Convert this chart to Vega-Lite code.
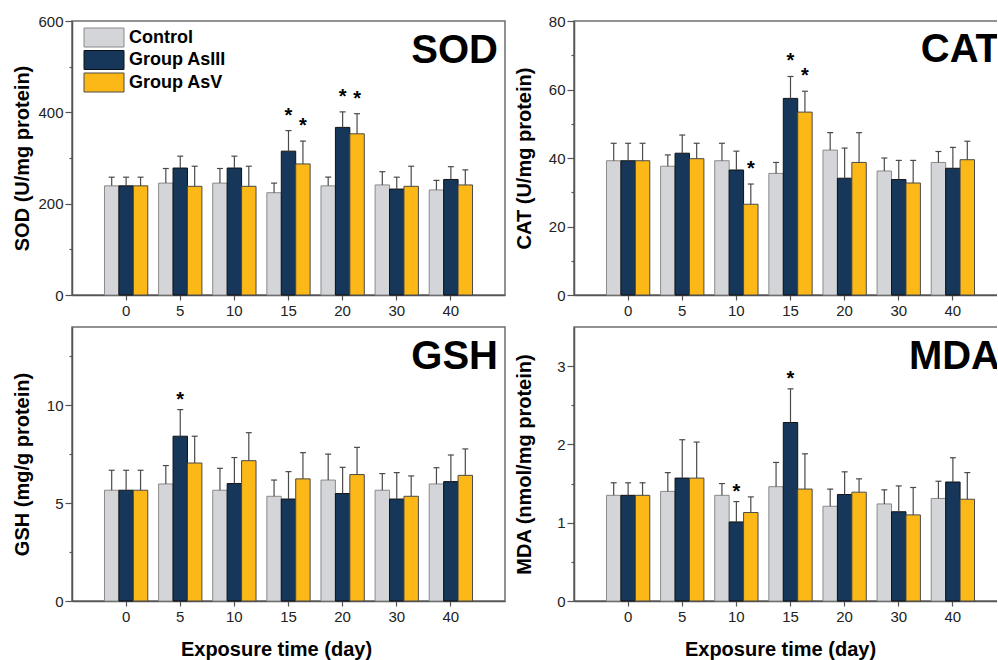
{
  "$schema": "https://vega.github.io/schema/vega-lite/v6.json",
  "padding": {"left": 11, "top": 13, "right": -11, "bottom": 0},
  "background": "white",
  "config": {
    "font": "Liberation Sans",
    "view": {"stroke": "#6e6e6e", "strokeWidth": 1.5},
    "axis": {"grid": false, "domainColor": "#555", "domainWidth": 1.5, "tickColor": "#555", "tickWidth": 1.2, "labelColor": "#222", "labelFontSize": 15, "labelFont": "Liberation Sans", "titleFont": "Liberation Sans", "titleColor": "#000", "titleFontWeight": "bold", "titleFontSize": 20}
  },
  "datasets": {
    "sod": [
      {"day": "0", "g": "Control", "m": 239, "hi": 258, "s": 0},
      {"day": "0", "g": "Group AsIII", "m": 239, "hi": 258, "s": 0},
      {"day": "0", "g": "Group AsV", "m": 239, "hi": 258, "s": 0},
      {"day": "5", "g": "Control", "m": 245, "hi": 277, "s": 0},
      {"day": "5", "g": "Group AsIII", "m": 278, "hi": 304, "s": 0},
      {"day": "5", "g": "Group AsV", "m": 238, "hi": 282, "s": 0},
      {"day": "10", "g": "Control", "m": 245, "hi": 277, "s": 0},
      {"day": "10", "g": "Group AsIII", "m": 278, "hi": 304, "s": 0},
      {"day": "10", "g": "Group AsV", "m": 238, "hi": 282, "s": 0},
      {"day": "15", "g": "Control", "m": 224, "hi": 245, "s": 0},
      {"day": "15", "g": "Group AsIII", "m": 315, "hi": 360, "s": 1},
      {"day": "15", "g": "Group AsV", "m": 287, "hi": 337, "s": 1},
      {"day": "20", "g": "Control", "m": 239, "hi": 258, "s": 0},
      {"day": "20", "g": "Group AsIII", "m": 367, "hi": 401, "s": 1},
      {"day": "20", "g": "Group AsV", "m": 353, "hi": 397, "s": 1},
      {"day": "30", "g": "Control", "m": 241, "hi": 270, "s": 0},
      {"day": "30", "g": "Group AsIII", "m": 232, "hi": 258, "s": 0},
      {"day": "30", "g": "Group AsV", "m": 238, "hi": 282, "s": 0},
      {"day": "40", "g": "Control", "m": 230, "hi": 251, "s": 0},
      {"day": "40", "g": "Group AsIII", "m": 253, "hi": 281, "s": 0},
      {"day": "40", "g": "Group AsV", "m": 241, "hi": 274, "s": 0}
    ],
    "cat": [
      {"day": "0", "g": "Control", "m": 39.2, "hi": 44.3, "s": 0},
      {"day": "0", "g": "Group AsIII", "m": 39.2, "hi": 44.3, "s": 0},
      {"day": "0", "g": "Group AsV", "m": 39.2, "hi": 44.3, "s": 0},
      {"day": "5", "g": "Control", "m": 37.6, "hi": 40.9, "s": 0},
      {"day": "5", "g": "Group AsIII", "m": 41.4, "hi": 46.7, "s": 0},
      {"day": "5", "g": "Group AsV", "m": 39.8, "hi": 44.3, "s": 0},
      {"day": "10", "g": "Control", "m": 39.2, "hi": 44.3, "s": 0},
      {"day": "10", "g": "Group AsIII", "m": 36.5, "hi": 42.0, "s": 0},
      {"day": "10", "g": "Group AsV", "m": 26.5, "hi": 32.4, "s": 1},
      {"day": "15", "g": "Control", "m": 35.5, "hi": 38.7, "s": 0},
      {"day": "15", "g": "Group AsIII", "m": 57.4, "hi": 63.8, "s": 1},
      {"day": "15", "g": "Group AsV", "m": 53.4, "hi": 59.5, "s": 1},
      {"day": "20", "g": "Control", "m": 42.3, "hi": 47.4, "s": 0},
      {"day": "20", "g": "Group AsIII", "m": 34.1, "hi": 42.9, "s": 0},
      {"day": "20", "g": "Group AsV", "m": 38.7, "hi": 47.4, "s": 0},
      {"day": "30", "g": "Control", "m": 36.2, "hi": 40.0, "s": 0},
      {"day": "30", "g": "Group AsIII", "m": 33.7, "hi": 39.3, "s": 0},
      {"day": "30", "g": "Group AsV", "m": 32.7, "hi": 39.3, "s": 0},
      {"day": "40", "g": "Control", "m": 38.7, "hi": 41.9, "s": 0},
      {"day": "40", "g": "Group AsIII", "m": 37.0, "hi": 43.1, "s": 0},
      {"day": "40", "g": "Group AsV", "m": 39.5, "hi": 44.9, "s": 0}
    ],
    "gsh": [
      {"day": "0", "g": "Control", "m": 5.66, "hi": 6.68, "s": 0},
      {"day": "0", "g": "Group AsIII", "m": 5.66, "hi": 6.68, "s": 0},
      {"day": "0", "g": "Group AsV", "m": 5.66, "hi": 6.68, "s": 0},
      {"day": "5", "g": "Control", "m": 5.98, "hi": 6.92, "s": 0},
      {"day": "5", "g": "Group AsIII", "m": 8.42, "hi": 9.78, "s": 1},
      {"day": "5", "g": "Group AsV", "m": 7.05, "hi": 8.42, "s": 0},
      {"day": "10", "g": "Control", "m": 5.66, "hi": 6.78, "s": 0},
      {"day": "10", "g": "Group AsIII", "m": 6.0, "hi": 7.33, "s": 0},
      {"day": "10", "g": "Group AsV", "m": 7.17, "hi": 8.6, "s": 0},
      {"day": "15", "g": "Control", "m": 5.35, "hi": 6.18, "s": 0},
      {"day": "15", "g": "Group AsIII", "m": 5.21, "hi": 6.61, "s": 0},
      {"day": "15", "g": "Group AsV", "m": 6.24, "hi": 7.58, "s": 0},
      {"day": "20", "g": "Control", "m": 6.18, "hi": 7.5, "s": 0},
      {"day": "20", "g": "Group AsIII", "m": 5.49, "hi": 6.83, "s": 0},
      {"day": "20", "g": "Group AsV", "m": 6.46, "hi": 7.85, "s": 0},
      {"day": "30", "g": "Control", "m": 5.66, "hi": 6.51, "s": 0},
      {"day": "30", "g": "Group AsIII", "m": 5.21, "hi": 6.56, "s": 0},
      {"day": "30", "g": "Group AsV", "m": 5.35, "hi": 6.39, "s": 0},
      {"day": "40", "g": "Control", "m": 5.98, "hi": 6.81, "s": 0},
      {"day": "40", "g": "Group AsIII", "m": 6.1, "hi": 7.46, "s": 0},
      {"day": "40", "g": "Group AsV", "m": 6.42, "hi": 7.77, "s": 0}
    ],
    "mda": [
      {"day": "0", "g": "Control", "m": 1.35, "hi": 1.51, "s": 0},
      {"day": "0", "g": "Group AsIII", "m": 1.35, "hi": 1.51, "s": 0},
      {"day": "0", "g": "Group AsV", "m": 1.35, "hi": 1.51, "s": 0},
      {"day": "5", "g": "Control", "m": 1.4, "hi": 1.64, "s": 0},
      {"day": "5", "g": "Group AsIII", "m": 1.57, "hi": 2.06, "s": 0},
      {"day": "5", "g": "Group AsV", "m": 1.57, "hi": 2.03, "s": 0},
      {"day": "10", "g": "Control", "m": 1.35, "hi": 1.5, "s": 0},
      {"day": "10", "g": "Group AsIII", "m": 1.01, "hi": 1.27, "s": 1},
      {"day": "10", "g": "Group AsV", "m": 1.13, "hi": 1.33, "s": 0},
      {"day": "15", "g": "Control", "m": 1.46, "hi": 1.77, "s": 0},
      {"day": "15", "g": "Group AsIII", "m": 2.28, "hi": 2.71, "s": 1},
      {"day": "15", "g": "Group AsV", "m": 1.43, "hi": 1.88, "s": 0},
      {"day": "20", "g": "Control", "m": 1.21, "hi": 1.43, "s": 0},
      {"day": "20", "g": "Group AsIII", "m": 1.36, "hi": 1.65, "s": 0},
      {"day": "20", "g": "Group AsV", "m": 1.39, "hi": 1.56, "s": 0},
      {"day": "30", "g": "Control", "m": 1.24, "hi": 1.42, "s": 0},
      {"day": "30", "g": "Group AsIII", "m": 1.14, "hi": 1.47, "s": 0},
      {"day": "30", "g": "Group AsV", "m": 1.1, "hi": 1.45, "s": 0},
      {"day": "40", "g": "Control", "m": 1.31, "hi": 1.53, "s": 0},
      {"day": "40", "g": "Group AsIII", "m": 1.52, "hi": 1.83, "s": 0},
      {"day": "40", "g": "Group AsV", "m": 1.3, "hi": 1.64, "s": 0}
    ]
  },
  "columns": 2,
  "spacing": {"row": 32, "column": 69},
  "bounds": "flush",
  "resolve": {"scale": {"fill": "independent", "stroke": "independent"}, "legend": {"fill": "independent", "stroke": "independent"}},
  "concat": [
    {
      "width": 433, "height": 274,
      "data": {"name": "sod"},
      "encoding": {
        "x": {"field": "day", "type": "nominal", "sort": ["0", "5", "10", "15", "20", "30", "40"], "scale": {"paddingInner": 0.2, "paddingOuter": 0.6}, "axis": {"title": null, "labelAngle": 0, "tickSize": 5, "labelPadding": 3}},
        "xOffset": {"field": "g", "type": "nominal", "sort": ["Control", "Group AsIII", "Group AsV"], "scale": {"paddingInner": 0, "paddingOuter": 0}}
      },
      "resolve": {"axis": {"y": "independent"}},
      "layer": [
        {"mark": {"type": "bar", "strokeWidth": 1},
         "encoding": {
           "y": {"field": "m", "type": "quantitative", "scale": {"domain": [0, 600], "nice": false}, "axis": {"orient": "left", "values": [0, 200, 400, 600], "tickSize": 7, "labelPadding": 2, "title": "SOD (U/mg protein)", "titleX": -40}},
           "fill": {"field": "g", "type": "nominal", "scale": {"domain": ["Control", "Group AsIII", "Group AsV"], "range": ["#d4d5d9", "#17375a", "#fcb816"]},
             "legend": {"title": null, "orient": "none", "legendX": 21.5, "legendY": 6, "padding": 0, "symbolType": "M-2,-0.95H2V0.95H-2Z", "symbolSize": 400, "symbolStrokeColor": "#444", "symbolStrokeWidth": 1, "symbolOpacity": 1, "symbolFillOpacity": 1, "rowPadding": -0.5, "labelFontSize": 18, "labelFontWeight": "bold", "labelColor": "#000", "labelOffset": 14.5, "labelFont": "Liberation Sans"}},
           "stroke": {"field": "g", "type": "nominal", "scale": {"domain": ["Control", "Group AsIII", "Group AsV"], "range": ["#8a8a8a", "#111111", "#4a4a4a"]}, "legend": null}
         }},
        {"mark": {"type": "tick", "opacity": 0},
         "encoding": {"y": {"field": "m", "type": "quantitative", "axis": {"orient": "left", "values": [100, 300, 500], "labels": false, "domain": false, "tickSize": 3, "title": null}}}},
        {"mark": {"type": "rule", "color": "#4a4a4a", "strokeWidth": 1.2},
         "encoding": {"y": {"field": "m", "type": "quantitative", "axis": null}, "y2": {"field": "hi"}}},
        {"mark": {"type": "tick", "color": "#4a4a4a", "size": 6, "thickness": 1.2, "opacity": 1},
         "encoding": {"y": {"field": "hi", "type": "quantitative", "axis": null}}},
        {"transform": [{"filter": "datum.s == 1"}],
         "mark": {"type": "text", "text": "*", "fontSize": 20, "fontWeight": "bold", "baseline": "alphabetic", "dy": -9, "color": "#000"},
         "encoding": {"y": {"field": "hi", "type": "quantitative", "axis": null}}},
        {"data": {"values": [{"label": "SOD"}]},
         "mark": {"type": "text", "fontSize": 40, "fontWeight": "bold", "align": "right", "baseline": "alphabetic", "dx": -7, "dy": 42, "color": "#000"},
         "encoding": {"x": {"value": "width"}, "xOffset": {"value": 0}, "y": {"datum": 600, "type": "quantitative", "axis": null}, "text": {"field": "label"}}}
      ]
    },
    {
      "width": 433, "height": 274,
      "data": {"name": "cat"},
      "encoding": {
        "x": {"field": "day", "type": "nominal", "sort": ["0", "5", "10", "15", "20", "30", "40"], "scale": {"paddingInner": 0.2, "paddingOuter": 0.6}, "axis": {"title": null, "labelAngle": 0, "tickSize": 5, "labelPadding": 3}},
        "xOffset": {"field": "g", "type": "nominal", "sort": ["Control", "Group AsIII", "Group AsV"], "scale": {"paddingInner": 0, "paddingOuter": 0}}
      },
      "resolve": {"axis": {"y": "independent"}},
      "layer": [
        {"mark": {"type": "bar", "strokeWidth": 1},
         "encoding": {
           "y": {"field": "m", "type": "quantitative", "scale": {"domain": [0, 80], "nice": false}, "axis": {"orient": "left", "values": [0, 20, 40, 60, 80], "tickSize": 7, "labelPadding": 2, "title": "CAT (U/mg protein)", "titleX": -40}},
           "fill": {"field": "g", "type": "nominal", "scale": {"domain": ["Control", "Group AsIII", "Group AsV"], "range": ["#d4d5d9", "#17375a", "#fcb816"]}, "legend": null},
           "stroke": {"field": "g", "type": "nominal", "scale": {"domain": ["Control", "Group AsIII", "Group AsV"], "range": ["#8a8a8a", "#111111", "#4a4a4a"]}, "legend": null}
         }},
        {"mark": {"type": "tick", "opacity": 0},
         "encoding": {"y": {"field": "m", "type": "quantitative", "axis": {"orient": "left", "values": [10, 30, 50, 70], "labels": false, "domain": false, "tickSize": 3, "title": null}}}},
        {"mark": {"type": "rule", "color": "#4a4a4a", "strokeWidth": 1.2},
         "encoding": {"y": {"field": "m", "type": "quantitative", "axis": null}, "y2": {"field": "hi"}}},
        {"mark": {"type": "tick", "color": "#4a4a4a", "size": 6, "thickness": 1.2, "opacity": 1},
         "encoding": {"y": {"field": "hi", "type": "quantitative", "axis": null}}},
        {"transform": [{"filter": "datum.s == 1"}],
         "mark": {"type": "text", "text": "*", "fontSize": 20, "fontWeight": "bold", "baseline": "alphabetic", "dy": -9, "color": "#000"},
         "encoding": {"y": {"field": "hi", "type": "quantitative", "axis": null}}},
        {"data": {"values": [{"label": "CAT"}]},
         "mark": {"type": "text", "fontSize": 40, "fontWeight": "bold", "align": "right", "baseline": "alphabetic", "dx": -7, "dy": 41, "color": "#000"},
         "encoding": {"x": {"value": "width"}, "xOffset": {"value": 0}, "y": {"datum": 80, "type": "quantitative", "axis": null}, "text": {"field": "label"}}}
      ]
    },
    {
      "width": 433, "height": 274,
      "data": {"name": "gsh"},
      "encoding": {
        "x": {"field": "day", "type": "nominal", "sort": ["0", "5", "10", "15", "20", "30", "40"], "scale": {"paddingInner": 0.2, "paddingOuter": 0.6}, "axis": {"title": "Exposure time (day)", "labelAngle": 0, "tickSize": 5, "labelPadding": 3, "titleX": 204, "titleY": 54, "titleBaseline": "alphabetic"}},
        "xOffset": {"field": "g", "type": "nominal", "sort": ["Control", "Group AsIII", "Group AsV"], "scale": {"paddingInner": 0, "paddingOuter": 0}}
      },
      "resolve": {"axis": {"y": "independent"}},
      "layer": [
        {"mark": {"type": "bar", "strokeWidth": 1},
         "encoding": {
           "y": {"field": "m", "type": "quantitative", "scale": {"domain": [0, 14], "nice": false}, "axis": {"orient": "left", "values": [0, 5, 10], "tickSize": 7, "labelPadding": 2, "title": "GSH (mg/g protein)", "titleX": -40}},
           "fill": {"field": "g", "type": "nominal", "scale": {"domain": ["Control", "Group AsIII", "Group AsV"], "range": ["#d4d5d9", "#17375a", "#fcb816"]}, "legend": null},
           "stroke": {"field": "g", "type": "nominal", "scale": {"domain": ["Control", "Group AsIII", "Group AsV"], "range": ["#8a8a8a", "#111111", "#4a4a4a"]}, "legend": null}
         }},
        {"mark": {"type": "tick", "opacity": 0},
         "encoding": {"y": {"field": "m", "type": "quantitative", "axis": {"orient": "left", "values": [2.5, 7.5, 12.5], "labels": false, "domain": false, "tickSize": 3, "title": null}}}},
        {"mark": {"type": "rule", "color": "#4a4a4a", "strokeWidth": 1.2},
         "encoding": {"y": {"field": "m", "type": "quantitative", "axis": null}, "y2": {"field": "hi"}}},
        {"mark": {"type": "tick", "color": "#4a4a4a", "size": 6, "thickness": 1.2, "opacity": 1},
         "encoding": {"y": {"field": "hi", "type": "quantitative", "axis": null}}},
        {"transform": [{"filter": "datum.s == 1"}],
         "mark": {"type": "text", "text": "*", "fontSize": 20, "fontWeight": "bold", "baseline": "alphabetic", "dy": -3.5, "color": "#000"},
         "encoding": {"y": {"field": "hi", "type": "quantitative", "axis": null}}},
        {"data": {"values": [{"label": "GSH"}]},
         "mark": {"type": "text", "fontSize": 40, "fontWeight": "bold", "align": "right", "baseline": "alphabetic", "dx": -7, "dy": 42, "color": "#000"},
         "encoding": {"x": {"value": "width"}, "xOffset": {"value": 0}, "y": {"datum": 14, "type": "quantitative", "axis": null}, "text": {"field": "label"}}}
      ]
    },
    {
      "width": 433, "height": 274,
      "data": {"name": "mda"},
      "encoding": {
        "x": {"field": "day", "type": "nominal", "sort": ["0", "5", "10", "15", "20", "30", "40"], "scale": {"paddingInner": 0.2, "paddingOuter": 0.6}, "axis": {"title": "Exposure time (day)", "labelAngle": 0, "tickSize": 5, "labelPadding": 3, "titleX": 206, "titleY": 54, "titleBaseline": "alphabetic"}},
        "xOffset": {"field": "g", "type": "nominal", "sort": ["Control", "Group AsIII", "Group AsV"], "scale": {"paddingInner": 0, "paddingOuter": 0}}
      },
      "resolve": {"axis": {"y": "independent"}},
      "layer": [
        {"mark": {"type": "bar", "strokeWidth": 1},
         "encoding": {
           "y": {"field": "m", "type": "quantitative", "scale": {"domain": [0, 3.5], "nice": false}, "axis": {"orient": "left", "values": [0, 1, 2, 3], "tickSize": 7, "labelPadding": 2, "title": "MDA (nmol/mg protein)", "titleX": -40}},
           "fill": {"field": "g", "type": "nominal", "scale": {"domain": ["Control", "Group AsIII", "Group AsV"], "range": ["#d4d5d9", "#17375a", "#fcb816"]}, "legend": null},
           "stroke": {"field": "g", "type": "nominal", "scale": {"domain": ["Control", "Group AsIII", "Group AsV"], "range": ["#8a8a8a", "#111111", "#4a4a4a"]}, "legend": null}
         }},
        {"mark": {"type": "tick", "opacity": 0},
         "encoding": {"y": {"field": "m", "type": "quantitative", "axis": {"orient": "left", "values": [0.5, 1.5, 2.5], "labels": false, "domain": false, "tickSize": 3, "title": null}}}},
        {"mark": {"type": "rule", "color": "#4a4a4a", "strokeWidth": 1.2},
         "encoding": {"y": {"field": "m", "type": "quantitative", "axis": null}, "y2": {"field": "hi"}}},
        {"mark": {"type": "tick", "color": "#4a4a4a", "size": 6, "thickness": 1.2, "opacity": 1},
         "encoding": {"y": {"field": "hi", "type": "quantitative", "axis": null}}},
        {"transform": [{"filter": "datum.s == 1"}],
         "mark": {"type": "text", "text": "*", "fontSize": 20, "fontWeight": "bold", "baseline": "alphabetic", "dy": -3.5, "color": "#000"},
         "encoding": {"y": {"field": "hi", "type": "quantitative", "axis": null}}},
        {"data": {"values": [{"label": "MDA"}]},
         "mark": {"type": "text", "fontSize": 40, "fontWeight": "bold", "align": "right", "baseline": "alphabetic", "dx": -7, "dy": 42, "color": "#000"},
         "encoding": {"x": {"value": "width"}, "xOffset": {"value": 0}, "y": {"datum": 3.5, "type": "quantitative", "axis": null}, "text": {"field": "label"}}}
      ]
    }
  ]
}
